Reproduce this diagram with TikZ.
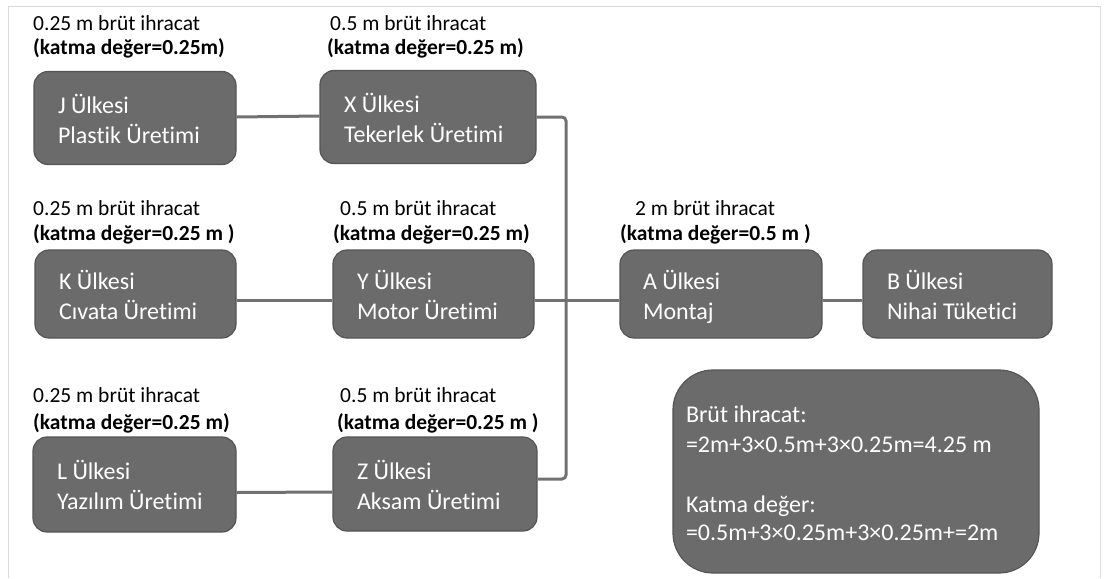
\documentclass[tikz,border=0pt]{standalone}
\usepackage{fontspec}
\setmainfont{Carlito}[Ligatures=NoCommon]
\definecolor{boxfill}{HTML}{6B6B6B}
\definecolor{boxedge}{HTML}{555555}
\definecolor{linkgray}{HTML}{717171}
\definecolor{framegray}{HTML}{D9D9D9}
\begin{document}
\begin{tikzpicture}[x=1pt,y=-1pt,
  box/.style={draw=boxedge, fill=boxfill, rounded corners=14pt, line width=1.2pt,
    text=white, align=flush left, inner ysep=0pt, inner xsep=24pt,
    font=\fontsize{24}{30}\selectfont,
    execute at begin node=\rule{0pt}{29pt}, execute at end node=\strut},
  gross/.style={anchor=west, inner sep=0pt, font=\fontsize{21.5}{26}\selectfont},
  added/.style={anchor=west, inner sep=0pt, font=\fontsize{21.5}{26}\selectfont\bfseries},
  link/.style={draw=linkgray, line width=3pt},
]
\useasboundingbox (0,0) rectangle (1105,578);
% page frame
\draw[framegray, line width=1pt] (8,578) -- (8,7) -- (1100,7) -- (1100,578);

% country boxes
\node[box, text width=154pt, minimum height=93pt] (J) at (135,118) {J Ülkesi\\Plastik Üretimi};
\node[box, text width=168pt, minimum height=93pt] (X) at (428,117) {X Ülkesi\\Tekerlek Üretimi};
\node[box, text width=153pt, minimum height=88pt] (K) at (135.5,294) {K Ülkesi\\Cıvata Üretimi};
\node[box, text width=153pt, minimum height=88pt] (Y) at (433.5,294) {Y Ülkesi\\Motor Üretimi};
\node[box, text width=156pt, minimum height=88pt, inner xsep=23pt] (A) at (721,294) {A Ülkesi\\Montaj};
\node[box, text width=141pt, minimum height=88pt] (B) at (957.5,294) {B Ülkesi\\Nihai Tüketici};
\node[box, text width=155pt, minimum height=95pt] (L) at (134.5,484.5) {L Ülkesi\\Yazılım Üretimi};
\node[box, text width=156pt, minimum height=94pt] (Z) at (435,484) {Z Ülkesi\\Aksam Üretimi};

% totals box
\node[box, rounded corners=40pt, text width=340pt, inner xsep=13pt, minimum height=203pt] (T) at (856,471.5)
  {Brüt ihracat:\\=2m+3×0.5m+3×0.25m=4.25 m\\[30pt]Katma değer:\\[-2pt]=0.5m+3×0.25m+3×0.25m+=2m};

% value labels
\node[gross] (Jg) at (33,23) {0.25 m brüt ihracat};
\node[added] (Ja) at (33,48) {(katma değer=0.25m)};
\node[gross] (Xg) at (330,23) {0.5 m brüt ihracat};
\node[added] (Xa) at (327,48) {(katma değer=0.25 m)};
\node[gross] (Kg) at (33,208) {0.25 m brüt ihracat};
\node[added] (Ka) at (33,234) {(katma değer=0.25 m )};
\node[gross] (Yg) at (340,208) {0.5 m brüt ihracat};
\node[added] (Ya) at (333,234) {(katma değer=0.25 m)};
\node[gross] (Ag) at (635,208) {2 m brüt ihracat};
\node[added] (Aa) at (620,234) {(katma değer=0.5 m )};
\node[gross] (Lg) at (33,395) {0.25 m brüt ihracat};
\node[added] (La) at (33,423) {(katma değer=0.25 m)};
\node[gross] (Zg) at (340,395) {0.5 m brüt ihracat};
\node[added] (Za) at (337,423) {(katma değer=0.25 m )};

% connectors
\coordinate (bus) at (566,300);
\draw[link] ([yshift=1pt]J.east) -- ([yshift=1pt]X.west);
\draw[link] ([yshift=-6pt]K.east) -- ([yshift=-6pt]Y.west);
\draw[link] ([yshift=-6pt]Y.east) -- ([yshift=-6pt]A.west);
\draw[link] ([yshift=-6pt]A.east) -- ([yshift=-6pt]B.west);
\draw[link] ([yshift=-8pt]L.east) -- ([yshift=-8pt]Z.west);
\draw[link, rounded corners=4pt] (X.east) -| (bus) |- ([yshift=5pt]Z.east);
\end{tikzpicture}
\end{document}
